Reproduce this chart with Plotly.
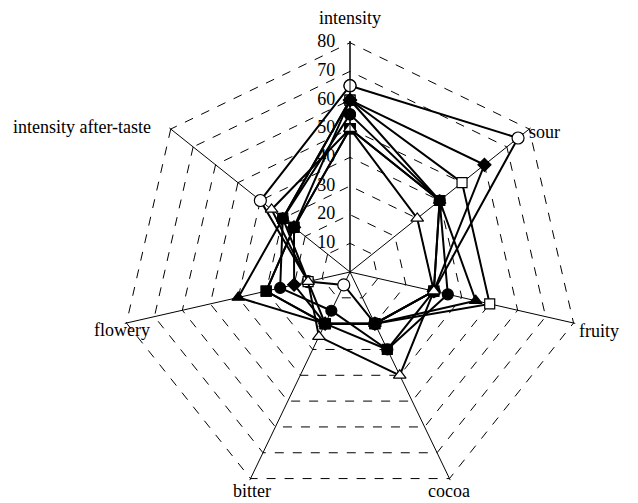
import plotly.graph_objects as go

categories = ["intensity", "sour", "fruity", "cocoa", "bitter", "flowery", "intensity after-taste"]

s_open_circle = [65, 75, 30, 20, 5, 15, 40]
s_filled_diamond = [60, 60, 30, 20, 20, 20, 25]
s_open_square = [60, 50, 50, 20, 20, 15, 30]
s_filled_triangle = [60, 40, 45, 20, 20, 40, 30]
s_filled_circle = [55, 40, 35, 30, 15, 25, 30]
s_filled_square_a = [50, 40, 30, 30, 20, 30, 25]
s_filled_square_b = [50, 40, 30, 20, 20, 30, 25]
s_open_triangle = [50, 30, 30, 40, 25, 15, 35]

radial_ticks = [0, 10, 20, 30, 40, 50, 60, 70, 80]
radial_tick_labels = [str(v) for v in radial_ticks]

series = [
    (s_open_circle, "circle", "white", 12),
    (s_open_square, "square", "white", 10),
    (s_filled_diamond, "diamond", "black", 10),
    (s_filled_triangle, "triangle-up", "black", 11),
    (s_filled_circle, "circle", "black", 11),
    (s_filled_square_a, "square", "black", 10),
    (s_filled_square_b, "square", "black", 10),
    (s_open_triangle, "triangle-up", "white", 11),
]

fig = go.Figure()

# radial tick labels, placed through the polar scale along the first axis
fig.add_trace(go.Scatterpolar(
    r=radial_ticks,
    theta=[categories[0]] * len(radial_ticks),
    mode="markers+text",
    text=radial_tick_labels,
    textposition="middle left",
    textfont=dict(family="Liberation Serif", size=18, color="black"),
    marker=dict(size=22, color="rgba(0,0,0,0)"),
    showlegend=False,
    hoverinfo="skip",
    cliponaxis=False,
))

for vals, sym, fill, size in series:
    fig.add_trace(go.Scatterpolar(
        r=vals + vals[:1],
        theta=categories + categories[:1],
        mode="lines+markers",
        line=dict(color="black", width=2),
        marker=dict(symbol=sym, size=size, color=fill,
                    line=dict(color="black", width=1.2)),
        showlegend=False,
        cliponaxis=False,
    ))

# the page adds an 8px body margin, so the figure is drawn 8px smaller and
# all layout pixel positions (given in page pixels) are shifted by it
OFF = 8
W, H = 638 - OFF, 503 - OFF
cx, cy = 350, 272          # page pixel centre of the chart
Ro = 231                   # page pixel radius of the outer range
rmax = 80.6                # a little above 80 so the 80 ring is drawn

label_pos = [
    ("intensity", 350, 18, "center"),
    ("sour", 527, 132, "left"),
    ("fruity", 577, 331, "left"),
    ("cocoa", 449, 491, "center"),
    ("bitter", 252, 491, "center"),
    ("flowery", 152, 330, "right"),
    ("intensity after-taste", 153, 127, "right"),
]
annotations = [
    dict(text=t, x=(px - OFF) / W, y=1 - (py - OFF) / H, xref="paper", yref="paper",
         xanchor=xa, yanchor="middle", showarrow=False,
         font=dict(family="Liberation Serif", size=18, color="black"))
    for t, px, py, xa in label_pos
]

x0, x1 = cx - Ro - OFF, cx + Ro - OFF
y_top, y_bot = cy - Ro - OFF, cy + Ro - OFF

fig.update_layout(
    width=W, height=H,
    margin=dict(l=0, r=0, t=0, b=0, pad=0),
    paper_bgcolor="white",
    plot_bgcolor="white",
    font=dict(family="Liberation Serif", size=18, color="black"),
    annotations=annotations,
    polar=dict(
        domain=dict(x=[max(x0, 0) / W, min(x1, W) / W],
                    y=[max(H - y_bot, 0) / H, min(H - y_top, H) / H]),
        bgcolor="white",
        gridshape="linear",
        angularaxis=dict(
            type="category",
            categoryorder="array",
            categoryarray=categories,
            direction="clockwise",
            rotation=90,
            showline=False,
            showgrid=True,
            gridcolor="black",
            gridwidth=1,
            ticks="",
            showticklabels=False,
        ),
        radialaxis=dict(
            range=[0, rmax],
            tickvals=radial_ticks,
            angle=90,
            showline=True,
            linecolor="black",
            linewidth=1,
            gridcolor="black",
            gridwidth=0.8,
            griddash="dash",
            ticks="",
            showticklabels=False,
        ),
    ),
)

fig.write_html("out.html")
